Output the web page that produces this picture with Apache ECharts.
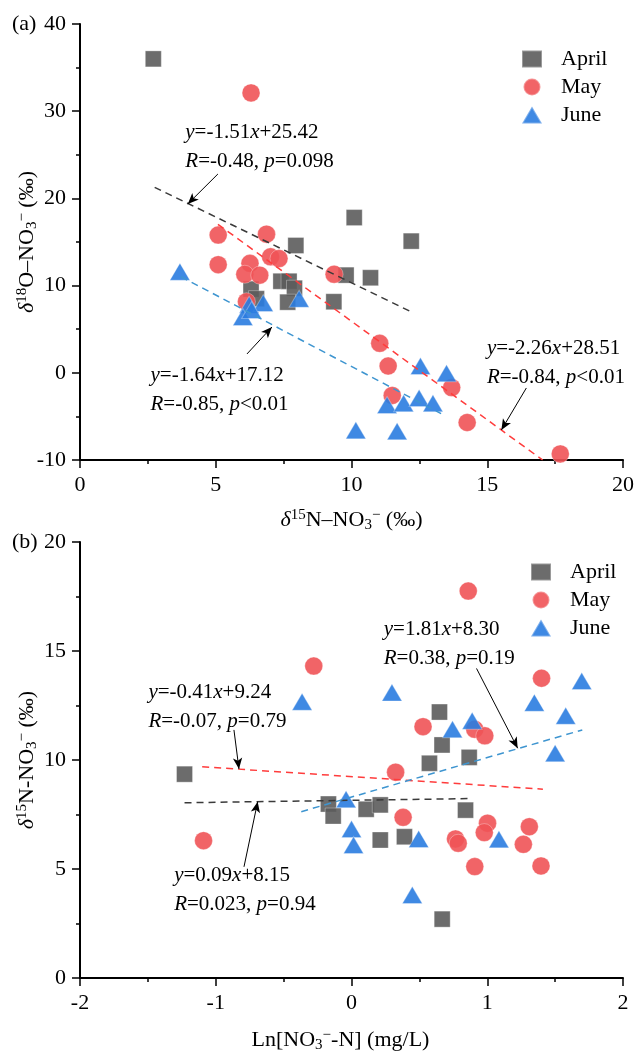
<!DOCTYPE html>
<html><head><meta charset="utf-8">
<script src="https://cdn.jsdelivr.net/npm/echarts@6/dist/echarts.min.js"></script>
<style>html,body{margin:0;padding:0;background:#fff}#c{width:637px;height:1052px}</style>
</head><body><div id="c"></div>
<script>
// ---------- data: panel (a) δ15N (x) vs δ18O (y) ----------
const monthNames = ['April', 'May', 'June'];
const aprilA = [[2.7,36.0],[10.1,17.8],[12.2,15.1],[7.95,14.6],[9.8,11.2],[10.7,10.9],[9.35,8.15],[7.4,10.5],[7.7,10.5],[7.9,9.7],[7.65,8.1],[6.3,9.6],[6.5,8.5]];
const mayA = [[6.3,32.1],[5.09,15.8],[6.87,15.9],[5.09,12.4],[6.26,12.55],[6.07,11.3],[6.62,11.2],[7.02,13.3],[7.33,13.1],[6.13,8.15],[9.36,11.3],[11.04,3.38],[11.35,0.78],[11.5,-2.6],[13.69,-1.7],[14.26,-5.7],[17.69,-9.3]];
const juneA = [[3.68,11.6],[6.23,7.8],[6.0,6.4],[6.75,8.0],[6.32,7.2],[8.07,8.5],[12.54,0.78],[13.5,-0.06],[11.31,-3.7],[11.92,-3.5],[12.49,-2.9],[13.0,-3.5],[10.16,-6.6],[11.68,-6.7]];
// regression line endpoints (a)
const aprilFitA = [[2.75,21.27],[12.15,7.07]];
const mayFitA = [[5.08,17.03],[17.04,-10.0]];
const juneFitA = [[3.72,11.02],[13.3,-4.69]];
// ---------- data: panel (b) Ln[NO3-N] (x) vs δ15N (y) ----------
const aprilB = [[-1.23,9.35],[0.648,12.2],[0.667,10.69],[0.574,9.85],[0.867,10.12],[-0.17,7.98],[-0.135,7.43],[0.108,7.74],[0.212,7.94],[0.212,6.33],[0.39,6.48],[0.84,7.7],[0.668,2.7]];
const mayB = [[-0.278,14.31],[0.86,17.75],[1.40,13.75],[0.527,11.53],[0.908,11.41],[0.982,11.11],[0.325,9.44],[-1.09,6.3],[0.38,7.37],[1.002,7.1],[0.978,6.67],[0.766,6.38],[0.786,6.18],[1.31,6.94],[1.266,6.13],[0.908,5.11],[1.396,5.14]];
const juneB = [[-0.364,12.67],[0.298,13.1],[1.696,13.62],[1.347,12.63],[1.578,12.03],[0.744,11.41],[0.889,11.8],[1.5,10.31],[-0.04,8.2],[0,6.83],[0.015,6.1],[0.495,6.38],[1.086,6.36],[0.448,3.81]];
const aprilFitB = [[-1.23,8.04],[0.87,8.23]];
const mayFitB = [[-1.1,9.69],[1.41,8.66]];
const juneFitB = [[-0.37,7.63],[1.7,11.38]];
// annotation text, anchor (left-middle of text block) and arrow [from, to], in data units
const annA = [
  {text:'{i|y}=-1.51{i|x}+25.42\n{i|R}=-0.48, {i|p}=0.098', at:[3.86,25.84], arrow:[[5.08,22.8],[3.97,19.36]]},
  {text:'{i|y}=-2.26{i|x}+28.51\n{i|R}=-0.84, {i|p}<0.01', at:[14.97,1.18], arrow:[[16.44,-1.74],[15.52,-6.56]]},
  {text:'{i|y}=-1.64{i|x}+17.12\n{i|R}=-0.85, {i|p}<0.01', at:[2.58,-1.97], arrow:[[6.15,2.16],[7.07,5.25]]}
];
const annB = [
  {text:'{i|y}=0.09{i|x}+8.15\n{i|R}=0.023, {i|p}=0.94', at:[-1.31,4.06], arrow:[[-0.792,5.1],[-0.691,8.09]]},
  {text:'{i|y}=-0.41{i|x}+9.24\n{i|R}=-0.07, {i|p}=0.79', at:[-1.50,12.43], arrow:[[-0.866,11.38],[-0.829,9.59]]},
  {text:'{i|y}=1.81{i|x}+8.30\n{i|R}=0.38, {i|p}=0.19', at:[0.234,15.3], arrow:[[0.921,14.2],[1.224,10.54]]}
];

const FONT = 'Liberation Serif';
const colors = {April:'#5c5c5c', May:'#f05356', June:'#2a7ce0'};
const fitColors = {April:'#3a3a3a', May:'#ff3c3c', June:'#3e95d0'};
const symbols = {April:'rect', May:'circle', June:'triangle'};
const sizes = {April:16, May:18, June:[20,17]};

const nameRich = {
  d: {fontFamily:FONT, fontSize:22, fontStyle:'italic', lineHeight:25, color:'#000'},
  sup: {fontFamily:FONT, fontSize:15, lineHeight:14, verticalAlign:'top', color:'#000'},
  sub: {fontFamily:FONT, fontSize:15, lineHeight:14, verticalAlign:'bottom', color:'#000'}
};
const nameStyle = {fontFamily:FONT, fontSize:22, lineHeight:25, color:'#000', rich:nameRich};

function axisBase(extra) {
  return Object.assign({
    type:'value',
    axisLine:{show:true, onZero:false, lineStyle:{color:'#000', width:2}},
    axisTick:{show:true, inside:false, length:8, lineStyle:{color:'#000', width:1.5}},
    minorTick:{show:true, splitNumber:2, length:4, lineStyle:{color:'#000', width:1.5}},
    splitLine:{show:false},
    axisLabel:{color:'#000', fontFamily:FONT, fontSize:22, margin:14},
    nameLocation:'middle',
    nameMoveOverlap:false,
    nameTextStyle:nameStyle
  }, extra);
}

const series = [];
function addPanel(idx, sets, fits, anns) {
  monthNames.forEach((m, k) => {
    series.push({
      name:m, type:'scatter', xAxisIndex:idx, yAxisIndex:idx,
      data:sets[k], symbol:symbols[m], symbolSize:sizes[m],
      itemStyle:{color:colors[m], opacity:0.9, borderColor:'rgba(255,255,255,0.35)', borderWidth:1},
      emphasis:{disabled:true}, z:2
    });
  });
  monthNames.forEach((m, k) => {
    const ann = anns[k];
    series.push({
      name:m + ' fit ' + idx, type:'line', xAxisIndex:idx, yAxisIndex:idx,
      data:fits[k], symbol:'none', showSymbol:false, z:3, silent:true,
      lineStyle:{color:fitColors[m], width:1.5, type:[7,5]},
      emphasis:{disabled:true},
      markLine:{
        silent:true, symbol:['none','arrow'], symbolSize:[7,11], animation:false,
        label:{show:false}, emphasis:{disabled:true},
        lineStyle:{color:'#000', width:1, type:'solid'},
        data:[[{coord:ann.arrow[0]},{coord:ann.arrow[1]}]]
      },
      markPoint:{
        silent:true, animation:false, symbol:'circle', symbolSize:1,
        itemStyle:{color:'rgba(0,0,0,0)'},
        label:{show:true, position:'right', distance:0, formatter:ann.text,
          fontFamily:FONT, fontSize:21, lineHeight:29, color:'#000',
          rich:{i:{fontFamily:FONT, fontSize:21, lineHeight:29, fontStyle:'italic', color:'#000'}}},
        data:[{coord:ann.at}]
      }
    });
  });
}
addPanel(0, [aprilA, mayA, juneA], [aprilFitA, mayFitA, juneFitA], annA);
addPanel(1, [aprilB, mayB, juneB], [aprilFitB, mayFitB, juneFitB], annB);

const legendBase = {
  data:monthNames, orient:'vertical', itemWidth:20, itemHeight:17, itemGap:6,
  padding:0, selectedMode:false,
  textStyle:{fontFamily:FONT, fontSize:22, color:'#000', padding:[0,0,0,14]}
};

const chart = echarts.init(document.getElementById('c'), null, {renderer:'canvas'});
chart.setOption({
  animation:false,
  backgroundColor:'#fff',
  grid:[
    {left:80, top:24, width:543, height:436, outerBoundsMode:'none', containLabel:false},
    {left:80, top:542, width:543, height:436, outerBoundsMode:'none', containLabel:false}
  ],
  xAxis:[
    axisBase({gridIndex:0, min:0, max:20, interval:5, name:'{d|δ}{sup|15}N–NO{sub|3}{sup|−} (‰)', nameGap:48}),
    axisBase({gridIndex:1, min:-2, max:2, interval:1, name:'Ln[NO{sub|3}{sup|−}-N] (mg/L)', nameGap:50,
      nameTextStyle:Object.assign({}, nameStyle, {padding:[0,22,0,0]})})
  ],
  yAxis:[
    axisBase({gridIndex:0, min:-10, max:40, interval:10, name:'{d|δ}{sup|18}O–NO{sub|3}{sup|−} (‰)', nameGap:40}),
    axisBase({gridIndex:1, min:0, max:20, interval:5, name:'{d|δ}{sup|15}N-NO{sub|3}{sup|−} (‰)', nameGap:40})
  ],
  legend:[
    Object.assign({left:521, top:48}, legendBase),
    Object.assign({left:530, top:561}, legendBase)
  ],
  graphic:[
    {type:'text', left:12, top:13, style:{text:'(a)', fontFamily:FONT, fontSize:22, fill:'#000'}},
    {type:'text', left:12, top:531, style:{text:'(b)', fontFamily:FONT, fontSize:22, fill:'#000'}}
  ],
  series:series
});
</script></body></html>
